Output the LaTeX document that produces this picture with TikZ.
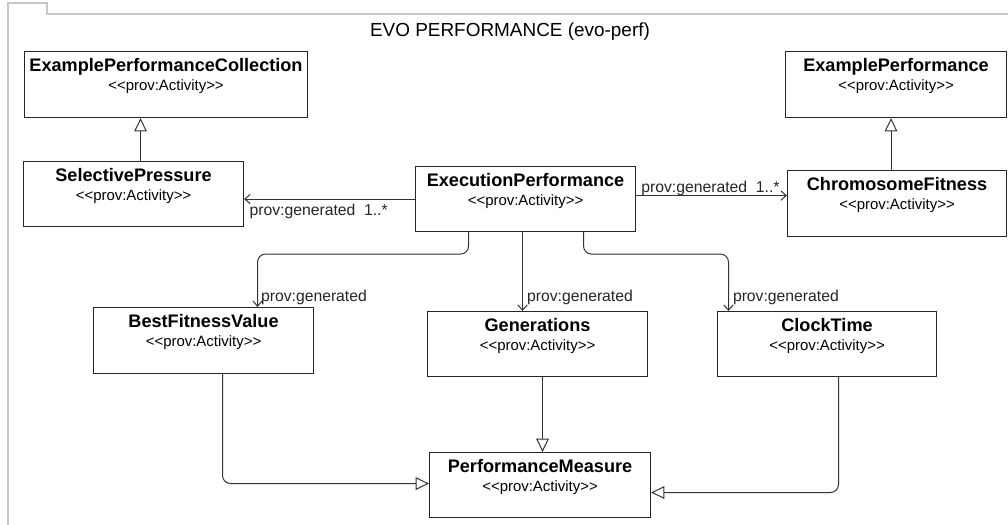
\documentclass[tikz,border=0pt]{standalone}
\usepackage{fontspec}
\setmainfont{Liberation Sans}
\usetikzlibrary{arrows.meta}
\tikzset{
  box/.style={draw=black!85, line width=0.8pt, fill=white, rectangle, inner sep=0pt, anchor=north west},
  ttl/.style={font=\bfseries\fontsize{13.6}{15}\selectfont, inner sep=0pt, anchor=base},
  ster/.style={font=\fontsize{11.2}{12}\selectfont, inner sep=0pt, anchor=base},
  lbl/.style={font=\fontsize{11.8}{13}\selectfont, inner sep=0pt, text=black!85},
  conn/.style={draw=black!80, line width=0.75pt},
  assoc/.style={conn, -{Straight Barb[length=4pt,width=7pt,line width=0.75pt]}},
  genl/.style={conn, -{Triangle[open,length=10pt,width=9.5pt,fill=white,line width=0.75pt]}},
  framec/.style={draw=black!22, line width=0.9pt}
}
\newcommand\umlbox[6]{%
  \node[box, minimum width=#4*0.75pt, minimum height=#5*0.75pt] (#1) at (#2,#3) {};
  \node[ttl] (#1-t) at ([yshift=-15pt]#1.north) {#6};
  \node[ster] (#1-s) at ([yshift=-29.25pt]#1.north) {<{}<prov:Activity>{}>};
}
\begin{document}
\begin{tikzpicture}[x=0.75pt,y=-0.75pt]
\useasboundingbox[fill=white] (0,0) rectangle (1008,525);
% frame
\draw[framec] (8,525) -- (8,3) -- (47,3) -- (47,14) -- (1008,14);
\node[font=\fontsize{14.2}{16}\selectfont, inner sep=0pt, anchor=base] (frametitle) at (510,36) {EVO PERFORMANCE (evo-perf)};
% boxes
\umlbox{epc}{24}{51}{283}{66}{ExamplePerformanceCollection}
\umlbox{ep}{785}{51}{221}{66}{ExamplePerformance}
\umlbox{sp}{23}{161}{220}{65}{SelectivePressure}
\umlbox{exe}{415}{166}{220}{65}{ExecutionPerformance}
\umlbox{cf}{787}{170}{219}{66}{ChromosomeFitness}
\umlbox{bfv}{93}{307}{220}{66}{BestFitnessValue}
\umlbox{gen}{427}{311}{220}{65}{Generations}
\umlbox{ct}{717}{311}{219}{65}{ClockTime}
\umlbox{pm}{429}{452}{221}{65}{PerformanceMeasure}
% generalisations (top)
\draw[genl] ([xshift=5.25pt]sp.north) -- ([xshift=5.25pt]sp.north |- epc.south);
\draw[genl] ([xshift=-4.5pt]cf.north) -- ([xshift=-4.5pt]cf.north |- ep.south);
% associations
\draw[assoc] (exe.west) -- (exe.west -| sp.east)
  node[lbl, anchor=base west, xshift=3.75pt, yshift=-12pt] (l1) {prov:generated\ \ 1..*};
\draw[assoc] ([yshift=2.6pt]exe.east) -- ([yshift=2.6pt]exe.east -| cf.west);
\node[lbl, anchor=base west] (l2) at ([xshift=3.75pt,yshift=4.9pt]exe.east) {prov:generated\ \ 1..*};
\draw[assoc, rounded corners=6pt] ([xshift=-42.75pt]exe.south) -- ++(0,22) -| ([xshift=40.5pt]bfv.north)
  node[lbl, anchor=base west, xshift=2.25pt, yshift=4.5pt] (l3) {prov:generated};
\draw[assoc] ([xshift=-2.25pt]exe.south) -- ([xshift=-2.25pt]exe.south |- gen.north)
  node[lbl, anchor=base west, xshift=3pt, yshift=7.5pt] (l4) {prov:generated};
\draw[assoc, rounded corners=6pt] ([xshift=43.5pt]exe.south) -- ++(0,22) -| ([xshift=-73.9pt]ct.north)
  node[lbl, anchor=base west, xshift=3pt, yshift=7.5pt] (l5) {prov:generated};
% generalisations (bottom)
\draw[genl, rounded corners=6pt] ([xshift=14.25pt]bfv.south) |- ([yshift=1.1pt]pm.west);
\draw[genl] ([xshift=3.75pt]gen.south) -- ([xshift=3.75pt]gen.south |- pm.north);
\draw[genl, rounded corners=6pt] ([xshift=8.6pt]ct.south) |- ([yshift=-5.6pt]pm.east);
\end{tikzpicture}
\end{document}
